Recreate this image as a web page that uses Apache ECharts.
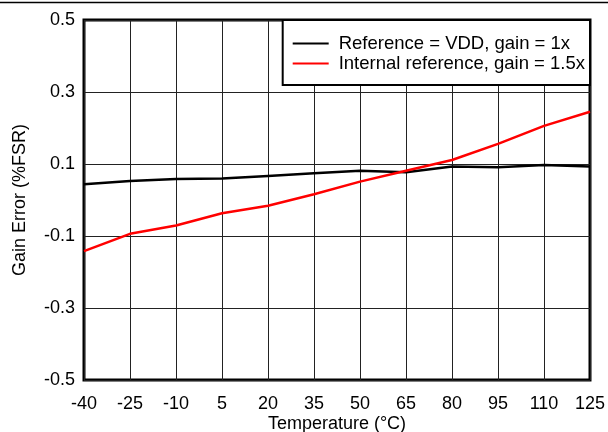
<!DOCTYPE html>
<html>
<head>
<meta charset="utf-8">
<script src="https://cdn.jsdelivr.net/npm/echarts@6/dist/echarts.min.js"></script>
<style>html,body{margin:0;padding:0;background:#fff;}#c{width:608px;height:432px;}</style>
</head>
<body>
<div id="c"></div>
<script>
var temperatures = [-40, -25, -10, 5, 20, 35, 50, 65, 80, 95, 110, 125];
var vddGain1x = [0.044, 0.053, 0.058, 0.060, 0.067, 0.074, 0.081, 0.077, 0.093, 0.091, 0.097, 0.093];
var intRefGain15x = [-0.142, -0.094, -0.071, -0.037, -0.016, 0.016, 0.051, 0.081, 0.111, 0.156, 0.206, 0.245];
var seriesNames = ['Reference = VDD, gain = 1x', 'Internal reference, gain = 1.5x'];

function pairs(xs, ys) { return xs.map(function (x, i) { return [x, ys[i]]; }); }

var font = 'Liberation Sans';
var chart = echarts.init(document.getElementById('c'), null, { renderer: 'canvas' });
chart.setOption({
  animation: false,
  backgroundColor: '#fff',
  textStyle: { fontFamily: font },
  grid: { left: 84, right: 18, top: 20, bottom: 52, show: true, borderColor: '#000', borderWidth: 3, backgroundColor: 'transparent', containLabel: false, outerBoundsMode: 'none' },
  legend: {
    right: 18, top: 20,
    orient: 'vertical',
    backgroundColor: '#fff',
    borderColor: '#000',
    borderWidth: 2,
    padding: [14, 5, 12, 10],
    itemGap: 1,
    itemWidth: 36,
    itemHeight: 20,
    textStyle: { fontSize: 18.5, color: '#000', fontFamily: font, padding: [0, 0, 0, 5] },
    data: seriesNames.map(function (n) { return { name: n, icon: 'path://M0,9 L36,9 L36,11 L0,11 Z' }; })
  },
  xAxis: {
    type: 'value', min: -40, max: 125, interval: 15,
    name: 'Temperature (°C)', nameLocation: 'middle', nameGap: 35, nameMoveOverlap: false,
    nameTextStyle: { fontSize: 18, color: '#000', fontFamily: font },
    axisLine: { show: false },
    axisTick: { show: false },
    axisLabel: { fontSize: 18, color: '#000', margin: 15, fontFamily: font },
    splitLine: { show: true, lineStyle: { color: '#222', width: 1 } }
  },
  yAxis: {
    type: 'value', min: -0.5, max: 0.5, interval: 0.2,
    name: 'Gain Error (%FSR)', nameLocation: 'middle', nameGap: 55, nameRotate: 90, nameMoveOverlap: false,
    nameTextStyle: { fontSize: 18, color: '#000', fontFamily: font },
    axisLine: { show: false },
    axisTick: { show: false },
    axisLabel: { fontSize: 18, color: '#000', margin: 9, fontFamily: font, formatter: function (v) { return (Math.round(v * 10) / 10).toFixed(1); } },
    splitLine: { show: true, lineStyle: { color: '#222', width: 1 } }
  },
  graphic: [{
    type: 'line', shape: { x1: 0, y1: 2.5, x2: 608, y2: 2.5 }, style: { stroke: '#000', lineWidth: 1.5 }, z: 100
  }],
  series: [
    { name: seriesNames[0], type: 'line', data: pairs(temperatures, vddGain1x), symbol: 'none', lineStyle: { color: '#000', width: 2.5 }, itemStyle: { color: '#000' } },
    { name: seriesNames[1], type: 'line', data: pairs(temperatures, intRefGain15x), symbol: 'none', lineStyle: { color: '#ff0000', width: 2.5 }, itemStyle: { color: '#ff0000' } }
  ]
});
</script>
</body>
</html>
